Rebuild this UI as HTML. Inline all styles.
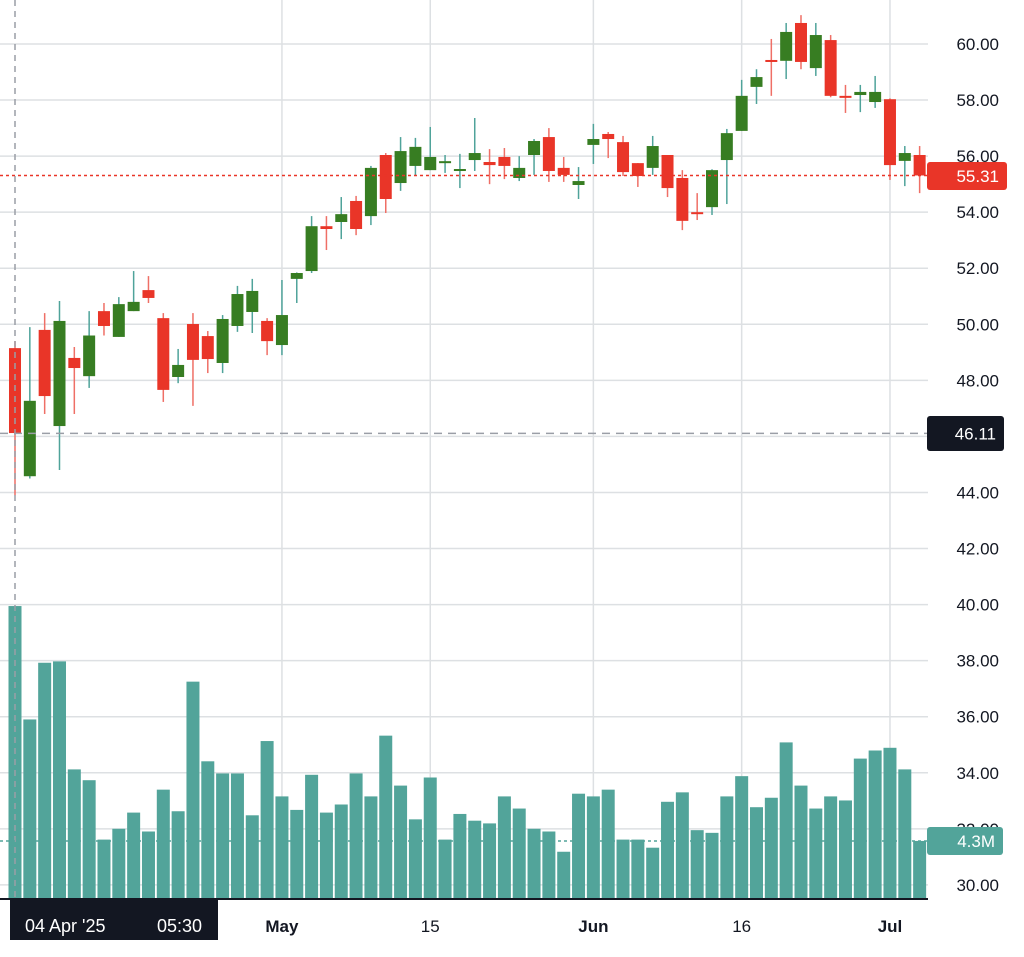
<!DOCTYPE html>
<html><head><meta charset="utf-8"><style>
html,body{margin:0;padding:0;background:#fff;}
svg{display:block;font-family:"Liberation Sans",sans-serif;}
</style></head><body>
<svg id="chart" width="1024" height="957" viewBox="0 0 1024 957" xmlns="http://www.w3.org/2000/svg">
<g id="grid"></g>
<g id="vol"></g>
<g id="candles"></g>
<g id="overlay"></g>
</svg>
<script>
const dateLabels = ["May","15","Jun","16","Jul"];
const dateIdx = [18,28,39,49,59];
const dateBold = [true,false,true,false,true];
const priceTicks = [30,32,34,36,38,40,42,44,46,48,50,52,54,56,58,60];
const opens = [49.15,44.58,49.8,46.37,48.8,48.15,50.47,49.55,50.47,51.22,50.22,48.12,50.01,49.58,48.62,49.94,50.44,50.12,49.26,51.62,51.9,53.5,53.65,54.4,53.86,56.04,55.04,55.65,55.5,55.78,55.5,55.86,55.79,55.97,55.22,56.04,56.68,55.58,54.97,56.4,56.79,56.5,55.75,55.58,56.04,55.22,54.0,54.18,55.86,56.9,58.47,59.43,59.4,60.75,59.14,60.14,58.15,58.18,57.93,58.03,55.83,56.04];
const closes = [46.12,47.27,47.44,50.12,48.44,49.6,49.94,50.72,50.8,50.94,47.66,48.55,48.73,48.76,50.19,51.08,51.19,49.4,50.33,51.83,53.5,53.4,53.93,53.4,55.58,54.47,56.18,56.33,55.97,55.82,55.54,56.11,55.68,55.65,55.58,56.54,55.47,55.33,55.11,56.61,56.61,55.43,55.29,56.36,54.86,53.69,53.93,55.5,56.82,58.15,58.82,59.36,60.43,59.36,60.32,58.15,58.1,58.29,58.29,55.68,56.11,55.31];
const highs = [49.4,49.9,50.4,50.83,49.19,50.47,50.76,50.97,51.9,51.72,50.4,49.12,50.4,49.76,50.33,51.37,51.62,50.22,51.58,51.85,53.86,53.86,54.54,54.58,55.65,56.11,56.68,56.65,57.04,56.04,56.08,57.36,56.25,56.29,56.0,56.61,57.0,55.97,55.61,57.15,56.86,56.72,55.75,56.72,56.04,55.5,54.68,55.53,56.97,58.72,59.1,60.18,60.75,61.03,60.75,60.32,58.54,58.54,58.86,58.06,56.36,56.36];
const lows = [43.9,44.5,46.8,44.8,46.8,47.73,49.6,49.55,50.47,50.76,47.23,47.9,47.09,48.26,48.26,49.73,49.69,48.9,48.9,50.76,51.83,52.65,53.04,53.18,53.54,53.97,54.76,55.29,55.5,55.4,54.86,55.47,55.0,55.18,55.11,55.33,55.08,55.08,54.47,55.72,55.93,55.29,54.9,55.33,54.54,53.36,53.72,53.9,54.29,56.9,57.86,58.15,58.75,59.1,58.86,58.1,57.54,57.57,57.72,55.15,54.93,54.68];
const volumes = [21.7,13.3,17.5,17.6,9.6,8.8,4.4,5.2,6.4,5.0,8.1,6.5,16.1,10.2,9.3,9.3,6.2,11.7,7.6,6.6,9.2,6.4,7.0,9.3,7.6,12.1,8.4,5.9,9.0,4.4,6.3,5.8,5.6,7.6,6.7,5.2,5.0,3.5,7.8,7.6,8.1,4.4,4.4,3.8,7.2,7.9,5.1,4.9,7.6,9.1,6.8,7.5,11.6,8.4,6.7,7.6,7.3,10.4,11.0,11.2,9.6,4.3];
const refPrice = 46.11;
const lastPrice = 55.31;
const lastVolLabel = "4.3M";

const NS="http://www.w3.org/2000/svg";
const PLOT_R=928;
function xOf(i){return 15+i*14.83;}
function yOf(p){return 44+(60-p)*28.03;}
function yVol(v){return 899-v*13.5;}
function mk(tag,attrs,parent){const e=document.createElementNS(NS,tag);for(const k in attrs)e.setAttribute(k,attrs[k]);parent.appendChild(e);return e;}
const grid=document.getElementById('grid'),vol=document.getElementById('vol'),cg=document.getElementById('candles'),ov=document.getElementById('overlay');

priceTicks.forEach(p=>{
  const l=mk('line',{x1:0,x2:PLOT_R,y1:yOf(p),y2:yOf(p),stroke:'#dde0e3','stroke-width':1.5},grid);
  
  
  const t=mk('text',{x:999,y:yOf(p)+6,'text-anchor':'end','font-size':17,fill:'#131722'},grid);
  t.textContent=p.toFixed(2);
  
  
});
dateIdx.forEach((d,k)=>{
  const x=xOf(d);
  const l=mk('line',{x1:x,x2:x,y1:0,y2:899,stroke:'#dde0e3','stroke-width':1.5},grid);
  
  
  const t=mk('text',{x:x,y:932,'text-anchor':'middle','font-size':17,fill:'#131722','font-weight':dateBold[k]?'bold':'normal'},grid);
  t.textContent=dateLabels[k];
  
  
});

volumes.forEach((v,i)=>{
  const r=mk('rect',{x:xOf(i)-6.5,y:yVol(v),width:13,height:899-yVol(v),fill:'#52a49a'},vol);
  
  
});

opens.forEach((o,i)=>{
  const c=closes[i],up=c>=o,x=xOf(i);
  const g=mk('g',{},cg);
  
  
  mk('line',{x1:x,x2:x,y1:yOf(highs[i]),y2:yOf(lows[i]),stroke:up?'#4fa39a':'#ef6f66','stroke-width':1.5},g);
  const top=yOf(Math.max(o,c)),bot=yOf(Math.min(o,c));
  mk('rect',{x:x-6,y:top,width:12,height:Math.max(2,bot-top),fill:up?'#377d22':'#e93528'},g);
});

// overlays
let e;
e=mk('line',{x1:15,x2:15,y1:0,y2:899,stroke:'#9a9ea6','stroke-width':1.5,'stroke-dasharray':'6 5'},ov);


e=mk('line',{x1:0,x2:PLOT_R,y1:yOf(refPrice),y2:yOf(refPrice),stroke:'#9a9ea6','stroke-width':1.5,'stroke-dasharray':'8 6'},ov);


e=mk('line',{x1:0,x2:PLOT_R,y1:yOf(lastPrice),y2:yOf(lastPrice),stroke:'#e93528','stroke-width':1.5,'stroke-dasharray':'3 3'},ov);


e=mk('line',{x1:0,x2:PLOT_R,y1:yVol(4.3),y2:yVol(4.3),stroke:'#52a49a','stroke-width':1.5,'stroke-dasharray':'3 3'},ov);


e=mk('line',{x1:0,x2:PLOT_R,y1:899,y2:899,stroke:'#131722','stroke-width':2},ov);



function badge(name,x,y,w,h,fill,text){
  const g=mk('g',{},ov);
  
  
  mk('rect',{x:x,y:y,width:w,height:h,rx:3,fill:fill},g);
  const t=mk('text',{x:x+w-8,y:y+h/2+6,'text-anchor':'end','font-size':17,fill:'#fff'},g);
  t.textContent=text;
}
badge('last-price-badge',927,162,80,28,'#e93528',lastPrice.toFixed(2));
badge('reference-price-badge',927,416,77,35,'#131722',refPrice.toFixed(2));
badge('last-volume-badge',927,827,76,28,'#52a49a',lastVolLabel);

const dg=mk('g',{},ov);


mk('rect',{x:10,y:900,width:208,height:40,fill:'#131722'},dg);
const dt=mk('text',{x:25,y:932,'font-size':18,fill:'#fff'},dg);
dt.textContent="04 Apr '25";
const dt2=mk('text',{x:202,y:932,'font-size':18,fill:'#fff','text-anchor':'end'},dg);
dt2.textContent="05:30";
</script>
</body></html>
